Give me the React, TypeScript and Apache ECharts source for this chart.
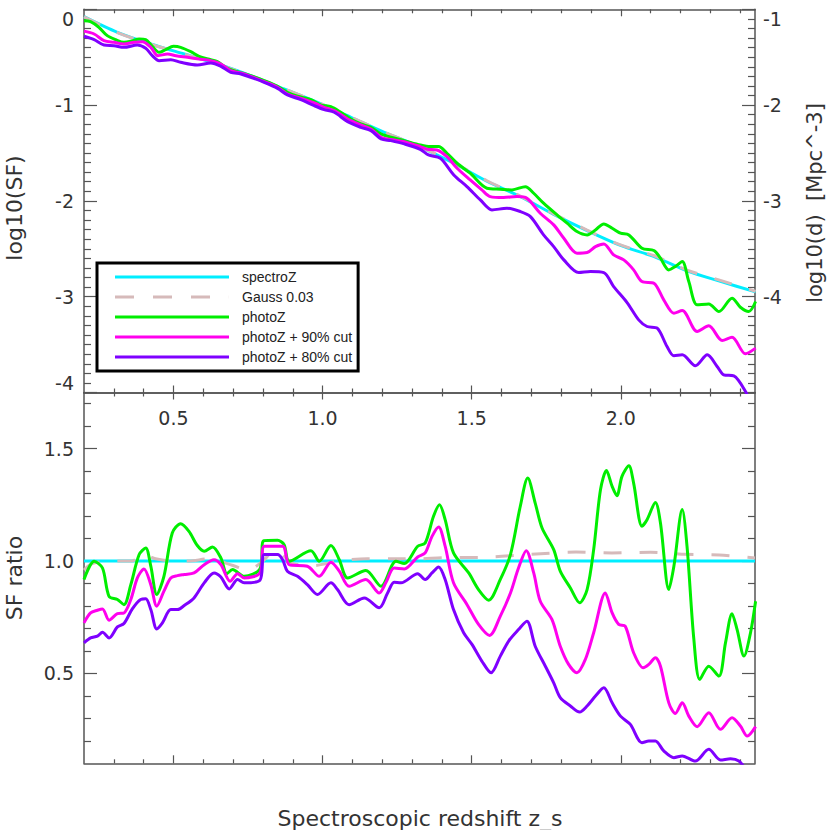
import React, { useEffect, useRef } from "react";
import * as echarts from "echarts";

// ---------- axis ticks ----------
const zMin = 0.2;
const zMax = 2.45;
const zMinorTicks = [0.3, 0.4, 0.6, 0.7, 0.8, 0.9, 1.1, 1.2, 1.3, 1.4, 1.6, 1.7, 1.8, 1.9, 2.1, 2.2, 2.3, 2.4];
const zMajorTicks = [0.5, 1.0, 1.5, 2.0];
const ratioMinorTicks = [0.2, 0.3, 0.4, 0.6, 0.7, 0.8, 0.9, 1.1, 1.2, 1.3, 1.4, 1.6, 1.7];
const ratioMajorTicks = [0.5, 1.0, 1.5];

// ---------- legend names ----------
const seriesNames = ["spectroZ", "Gauss 0.03", "photoZ", "photoZ + 90% cut", "photoZ + 80% cut"];

// ---------- top panel: log10(SF) ----------
const spectroZTop = [[0.2,-0.076],[0.312,-0.24],[0.424,-0.362],[0.536,-0.467],[0.648,-0.571],[0.759,-0.693],[0.871,-0.832],[0.983,-0.971],[1.095,-1.127],[1.207,-1.284],[1.319,-1.425],[1.44,-1.607],[1.551,-1.795],[1.663,-1.955],[1.775,-2.14],[1.887,-2.31],[1.999,-2.465],[2.11,-2.58],[2.222,-2.73],[2.334,-2.84],[2.452,-2.95]];
const gaussTop = [[0.2,-0.08],[0.312,-0.243],[0.424,-0.365],[0.536,-0.468],[0.648,-0.574],[0.759,-0.695],[0.871,-0.83],[0.983,-0.97],[1.095,-1.125],[1.207,-1.283],[1.319,-1.423],[1.44,-1.603],[1.551,-1.79],[1.663,-1.95],[1.775,-2.135],[1.887,-2.305],[1.999,-2.46],[2.11,-2.57],[2.222,-2.722],[2.334,-2.83],[2.452,-2.944]];
const photoZTop = [[0.2,-0.119],[0.222,-0.129],[0.25,-0.188],[0.278,-0.275],[0.306,-0.317],[0.334,-0.345],[0.357,-0.334],[0.385,-0.31],[0.407,-0.317],[0.429,-0.387],[0.452,-0.449],[0.474,-0.421],[0.5,-0.387],[0.524,-0.397],[0.558,-0.442],[0.586,-0.491],[0.625,-0.526],[0.647,-0.547],[0.681,-0.616],[0.715,-0.651],[0.759,-0.693],[0.804,-0.745],[0.849,-0.804],[0.882,-0.866],[0.916,-0.908],[0.961,-0.943],[0.994,-0.999],[1.028,-1.016],[1.061,-1.075],[1.095,-1.145],[1.128,-1.197],[1.162,-1.232],[1.196,-1.301],[1.229,-1.336],[1.274,-1.371],[1.3275,-1.416],[1.361,-1.433],[1.389,-1.433],[1.417,-1.503],[1.451,-1.607],[1.495,-1.711],[1.551,-1.868],[1.596,-1.878],[1.635,-1.885],[1.68,-1.851],[1.708,-1.92],[1.741,-2.024],[1.786,-2.146],[1.82,-2.233],[1.853,-2.32],[1.887,-2.355],[1.915,-2.303],[1.943,-2.24],[1.971,-2.285],[1.999,-2.337],[2.027,-2.355],[2.071,-2.494],[2.111,-2.518],[2.133,-2.598],[2.161,-2.72],[2.183,-2.685],[2.206,-2.633],[2.228,-2.842],[2.256,-3.085],[2.295,-3.075],[2.329,-3.155],[2.373,-3.016],[2.401,-3.11],[2.429,-3.155],[2.452,-3.05]];
const cut90Top = [[0.2,-0.228],[0.234,-0.258],[0.267,-0.327],[0.301,-0.345],[0.334,-0.362],[0.368,-0.345],[0.396,-0.338],[0.424,-0.397],[0.448,-0.484],[0.48,-0.467],[0.508,-0.484],[0.547,-0.501],[0.586,-0.519],[0.625,-0.536],[0.659,-0.571],[0.692,-0.64],[0.726,-0.665],[0.759,-0.7],[0.804,-0.755],[0.849,-0.814],[0.882,-0.884],[0.927,-0.929],[0.972,-0.978],[1.005,-1.023],[1.039,-1.058],[1.084,-1.145],[1.128,-1.207],[1.162,-1.249],[1.196,-1.336],[1.229,-1.36],[1.274,-1.381],[1.3275,-1.433],[1.35,-1.461],[1.383,-1.468],[1.417,-1.538],[1.451,-1.659],[1.495,-1.781],[1.534,-1.885],[1.562,-1.955],[1.607,-1.965],[1.652,-1.955],[1.685,-1.972],[1.73,-2.129],[1.775,-2.25],[1.809,-2.39],[1.853,-2.546],[1.887,-2.539],[1.915,-2.477],[1.943,-2.449],[1.976,-2.564],[2.01,-2.616],[2.043,-2.72],[2.071,-2.842],[2.111,-2.859],[2.144,-3.033],[2.178,-3.172],[2.206,-3.144],[2.256,-3.363],[2.295,-3.304],[2.34,-3.457],[2.373,-3.423],[2.418,-3.596],[2.452,-3.537]];
const cut80Top = [[0.2,-0.282],[0.234,-0.317],[0.267,-0.373],[0.301,-0.38],[0.334,-0.397],[0.379,-0.373],[0.407,-0.407],[0.429,-0.484],[0.452,-0.536],[0.491,-0.526],[0.524,-0.553],[0.58,-0.581],[0.625,-0.56],[0.659,-0.595],[0.692,-0.658],[0.726,-0.675],[0.759,-0.71],[0.804,-0.762],[0.849,-0.825],[0.882,-0.894],[0.927,-0.943],[0.972,-1.006],[1.005,-1.047],[1.039,-1.075],[1.084,-1.173],[1.128,-1.232],[1.162,-1.266],[1.196,-1.353],[1.229,-1.371],[1.274,-1.405],[1.3275,-1.461],[1.355,-1.52],[1.395,-1.555],[1.44,-1.729],[1.484,-1.851],[1.529,-1.99],[1.568,-2.094],[1.618,-2.077],[1.663,-2.111],[1.697,-2.164],[1.741,-2.355],[1.775,-2.477],[1.809,-2.616],[1.859,-2.748],[1.898,-2.737],[1.943,-2.748],[1.976,-2.894],[2.021,-3.061],[2.06,-3.242],[2.088,-3.311],[2.122,-3.329],[2.155,-3.52],[2.178,-3.617],[2.206,-3.607],[2.25,-3.721],[2.29,-3.607],[2.323,-3.728],[2.345,-3.815],[2.379,-3.826],[2.418,-3.989],[2.44,-4.15]];

// ---------- bottom panel: SF ratio ----------
const spectroZRatio = [[0.2,1.0],[2.45,1.0]];
const gaussRatio = [[0.2,0.96],[0.23,0.99],[0.3,1.0],[0.36,1.0],[0.4,1.03],[0.44,1.01],[0.5,1.0],[0.55,1.0],[0.62,1.01],[0.7,0.98],[0.75,0.96],[0.8,1.0],[0.84,1.05],[0.9,0.99],[0.97,0.98],[1.05,1.0],[1.15,1.01],[1.25,1.01],[1.32,1.01],[1.4,1.015],[1.55,1.017],[1.7,1.03],[1.85,1.04],[1.97,1.036],[2.1,1.039],[2.22,1.03],[2.33,1.027],[2.45,1.014]];
const photoZRatio = [[0.2,0.918],[0.234,0.999],[0.262,0.969],[0.284,0.843],[0.312,0.829],[0.334,0.806],[0.357,0.895],[0.385,1.029],[0.407,1.058],[0.424,0.977],[0.444,0.851],[0.468,0.932],[0.496,1.125],[0.524,1.166],[0.552,1.132],[0.58,1.069],[0.603,1.044],[0.631,1.063],[0.659,1.014],[0.679,0.944],[0.698,0.962],[0.737,0.932],[0.79,0.965],[0.803,1.09],[0.849,1.092],[0.871,1.073],[0.888,0.999],[0.961,1.046],[0.989,0.999],[1.028,1.069],[1.056,1.006],[1.084,0.925],[1.145,0.958],[1.196,0.888],[1.246,0.999],[1.274,0.989],[1.319,1.066],[1.344,1.08],[1.372,1.199],[1.392,1.251],[1.411,1.184],[1.439,1.036],[1.49,0.947],[1.523,0.873],[1.557,0.826],[1.596,0.918],[1.63,1.029],[1.663,1.244],[1.688,1.369],[1.713,1.258],[1.736,1.147],[1.775,1.051],[1.797,0.955],[1.831,0.88],[1.862,0.814],[1.887,0.873],[1.909,1.051],[1.932,1.318],[1.952,1.403],[1.971,1.332],[1.987,1.291],[2.004,1.377],[2.027,1.424],[2.043,1.347],[2.071,1.155],[2.088,1.184],[2.116,1.261],[2.133,1.169],[2.161,0.873],[2.178,0.977],[2.206,1.229],[2.222,1.066],[2.245,0.651],[2.265,0.473],[2.295,0.532],[2.329,0.488],[2.351,0.636],[2.373,0.766],[2.39,0.695],[2.413,0.577],[2.435,0.681],[2.452,0.821]];
const cut90Ratio = [[0.2,0.725],[0.222,0.769],[0.245,0.781],[0.262,0.787],[0.284,0.737],[0.312,0.766],[0.334,0.769],[0.357,0.829],[0.379,0.925],[0.401,0.965],[0.424,0.895],[0.444,0.799],[0.468,0.866],[0.491,0.925],[0.513,0.935],[0.536,0.94],[0.569,0.947],[0.603,0.984],[0.636,1.006],[0.659,0.984],[0.69,0.91],[0.715,0.944],[0.737,0.925],[0.79,0.947],[0.805,1.066],[0.866,1.066],[0.888,0.984],[0.949,0.977],[0.989,0.932],[1.028,0.995],[1.056,0.955],[1.089,0.888],[1.145,0.918],[1.19,0.858],[1.212,0.903],[1.24,0.969],[1.274,0.965],[1.319,1.018],[1.344,1.036],[1.367,1.11],[1.389,1.152],[1.411,1.066],[1.439,0.903],[1.484,0.807],[1.523,0.718],[1.56,0.669],[1.596,0.755],[1.63,0.858],[1.657,0.969],[1.683,1.046],[1.708,0.947],[1.73,0.821],[1.769,0.74],[1.797,0.621],[1.825,0.54],[1.853,0.503],[1.881,0.562],[1.909,0.681],[1.948,0.858],[1.971,0.769],[1.993,0.718],[2.015,0.71],[2.043,0.592],[2.075,0.525],[2.094,0.54],[2.116,0.57],[2.133,0.532],[2.161,0.369],[2.183,0.322],[2.206,0.369],[2.228,0.31],[2.256,0.263],[2.295,0.325],[2.334,0.251],[2.373,0.303],[2.401,0.266],[2.424,0.221],[2.452,0.263]];
const cut80Ratio = [[0.2,0.636],[0.222,0.658],[0.245,0.666],[0.262,0.683],[0.284,0.658],[0.312,0.707],[0.334,0.722],[0.362,0.787],[0.39,0.829],[0.407,0.832],[0.424,0.784],[0.444,0.698],[0.463,0.725],[0.491,0.784],[0.513,0.784],[0.536,0.802],[0.569,0.836],[0.603,0.903],[0.636,0.947],[0.659,0.929],[0.687,0.876],[0.715,0.918],[0.737,0.903],[0.79,0.915],[0.805,1.029],[0.849,1.029],[0.866,1.006],[0.882,0.955],[0.916,0.932],[0.949,0.895],[0.983,0.851],[1.028,0.903],[1.05,0.873],[1.089,0.806],[1.14,0.836],[1.19,0.792],[1.218,0.858],[1.24,0.906],[1.263,0.903],[1.319,0.944],[1.344,0.918],[1.367,0.947],[1.389,0.974],[1.411,0.918],[1.439,0.784],[1.473,0.681],[1.501,0.629],[1.534,0.555],[1.565,0.503],[1.596,0.577],[1.624,0.644],[1.657,0.695],[1.685,0.732],[1.713,0.621],[1.747,0.532],[1.775,0.458],[1.797,0.392],[1.831,0.355],[1.862,0.328],[1.887,0.355],[1.915,0.399],[1.943,0.436],[1.971,0.369],[1.999,0.31],[2.032,0.273],[2.071,0.192],[2.094,0.199],[2.116,0.199],[2.144,0.155],[2.178,0.125],[2.206,0.133],[2.25,0.11],[2.295,0.162],[2.334,0.115],[2.368,0.12],[2.396,0.11],[2.42,0.07]];

// ---------- styles ----------
const FONT = "DejaVu Sans, sans-serif";
const AXIS = "#555555";
const TEXT = "#333333";
const COLORS = ["#00eeff", "#d6baba", "#00ee00", "#ff00ee", "#7f00ff"];
const SOLID_ICON = "path://M0,0h114v3h-114z";
const DASHED_ICON = "path://M0,0h19v3h-19zM38,0h19v3h-19zM76,0h19v3h-19zM113.9,0h0.1v3h-0.1z";

const lineS = { color: AXIS, width: 1.5 };
const tickS = { color: AXIS, width: 1.2 };

function mkX(gridIndex: number, position: string, values: number[], length: number, showLine: boolean, labels: boolean) {
  return {
    type: "value", gridIndex, position, min: zMin, max: zMax,
    axisLine: { show: showLine, onZero: false, lineStyle: lineS },
    axisTick: { show: true, inside: true, length, customValues: values, lineStyle: tickS },
    axisLabel: labels
      ? { show: true, customValues: zMajorTicks, formatter: (v: number) => v.toFixed(1), margin: 16, fontSize: 19, color: TEXT, fontFamily: FONT }
      : { show: false },
    splitLine: { show: false },
    minorTick: { show: false },
  };
}

function mkYRatio(position: string, values: number[], length: number, showLine: boolean, labels: boolean) {
  return {
    type: "value", gridIndex: 1, position, min: 0.1, max: 1.75,
    axisLine: { show: showLine, onZero: false, lineStyle: lineS },
    axisTick: { show: true, inside: true, length, customValues: values, lineStyle: tickS },
    axisLabel: labels
      ? { show: true, customValues: ratioMajorTicks, formatter: (v: number) => v.toFixed(1), margin: 10, fontSize: 19, color: TEXT, fontFamily: FONT }
      : { show: false },
    splitLine: { show: false },
  };
}

function mkSeries(name: string, data: number[][], color: string, grid: number, dashed: boolean) {
  return {
    type: "line", name, data,
    xAxisIndex: grid === 0 ? 0 : 4,
    yAxisIndex: grid === 0 ? 0 : 2,
    symbol: "none", smooth: 0.3, clip: true, silent: true,
    lineStyle: { color, width: 3, type: dashed ? [18, 18] : "solid" },
    itemStyle: { color },
  };
}

const topData = [spectroZTop, gaussTop, photoZTop, cut90Top, cut80Top];
const ratioData = [spectroZRatio, gaussRatio, photoZRatio, cut90Ratio, cut80Ratio];

const option: any = {
  animation: false,
  backgroundColor: "#ffffff",
  textStyle: { fontFamily: FONT },
  grid: [
    { left: 84, right: 75, top: 9.3, height: 383.2, containLabel: false, outerBoundsMode: "none" },
    { left: 84, right: 75, top: 392.5, height: 370.8, containLabel: false, outerBoundsMode: "none" },
  ],
  xAxis: [
    mkX(0, "bottom", zMinorTicks, 4, true, true),
    mkX(0, "bottom", zMajorTicks, 7, false, false),
    mkX(0, "top", zMinorTicks, 4, true, false),
    mkX(0, "top", zMajorTicks, 7, false, false),
    mkX(1, "bottom", zMinorTicks, 4, true, false),
    mkX(1, "bottom", zMajorTicks, 8, false, false),
    mkX(1, "top", zMinorTicks, 4, true, false),
    mkX(1, "top", zMajorTicks, 7, false, false),
  ],
  yAxis: [
    {
      type: "value", gridIndex: 0, position: "left", min: -4, max: 0, interval: 1,
      axisLine: { show: true, onZero: false, lineStyle: lineS },
      axisTick: { show: true, inside: true, length: 13, lineStyle: tickS },
      minorTick: { show: true, splitNumber: 10, length: 7, lineStyle: tickS },
      axisLabel: { fontSize: 19, margin: 10, color: TEXT, fontFamily: FONT, verticalAlignMaxLabel: "top", verticalAlignMinLabel: "bottom" },
      splitLine: { show: false }, minorSplitLine: { show: false },
    },
    {
      type: "value", gridIndex: 0, position: "right", min: -5, max: -1, interval: 1,
      axisLine: { show: true, onZero: false, lineStyle: lineS },
      axisTick: { show: true, inside: true, length: 13, lineStyle: tickS },
      minorTick: { show: true, splitNumber: 10, length: 7, lineStyle: tickS },
      axisLabel: { fontSize: 19, margin: 8, color: TEXT, fontFamily: FONT, showMinLabel: false, verticalAlignMaxLabel: "top" },
      splitLine: { show: false }, minorSplitLine: { show: false },
    },
    mkYRatio("left", ratioMinorTicks, 7, true, true),
    mkYRatio("left", ratioMajorTicks, 13, false, false),
    mkYRatio("right", ratioMinorTicks, 7, true, false),
    mkYRatio("right", ratioMajorTicks, 13, false, false),
  ],
  legend: {
    orient: "vertical", left: 97, top: 263,
    data: seriesNames.map((n, i) => ({ name: n, icon: i === 1 ? DASHED_ICON : SOLID_ICON })),
    itemWidth: 114, itemHeight: 14, itemGap: 6,
    padding: [7, 6, 7, 18],
    borderColor: "#000000", borderWidth: 3, backgroundColor: "#ffffff",
    selectedMode: false,
    textStyle: { fontSize: 14, lineHeight: 14, color: "#222222", fontFamily: "Liberation Sans, Arial, sans-serif", padding: [0, 0, 0, 8] },
  },
  graphic: [
    { type: "text", x: 14, y: 208, rotation: Math.PI / 2, style: { text: "log10(SF)", fontSize: 22, fill: TEXT, fontFamily: FONT, align: "center", verticalAlign: "middle" } },
    { type: "text", x: 14, y: 578, rotation: Math.PI / 2, style: { text: "SF ratio", fontSize: 22, fill: TEXT, fontFamily: FONT, align: "center", verticalAlign: "middle" } },
    { type: "text", x: 815, y: 203, rotation: Math.PI / 2, style: { text: "log10(d)  [Mpc^-3]", fontSize: 21, fill: TEXT, fontFamily: FONT, align: "center", verticalAlign: "middle" } },
    { type: "text", x: 420, y: 818, style: { text: "Spectroscopic redshift z_s", fontSize: 22, fill: TEXT, fontFamily: FONT, align: "center", verticalAlign: "middle" } },
  ],
  series: [
    ...seriesNames.map((n, i) => mkSeries(n, topData[i], COLORS[i], 0, i === 1)),
    ...seriesNames.map((n, i) => mkSeries(n, ratioData[i], COLORS[i], 1, i === 1)),
  ],
};

export default function App() {
  const ref = useRef<HTMLDivElement>(null);
  useEffect(() => {
    const chart = echarts.init(ref.current!, null, { renderer: "svg" });
    chart.setOption(option);
    return () => chart.dispose();
  }, []);
  return (
    <div
      ref={ref}
      style={{ position: "fixed", left: 0, top: 0, width: 830, height: 830, background: "#ffffff" }}
    />
  );
}
